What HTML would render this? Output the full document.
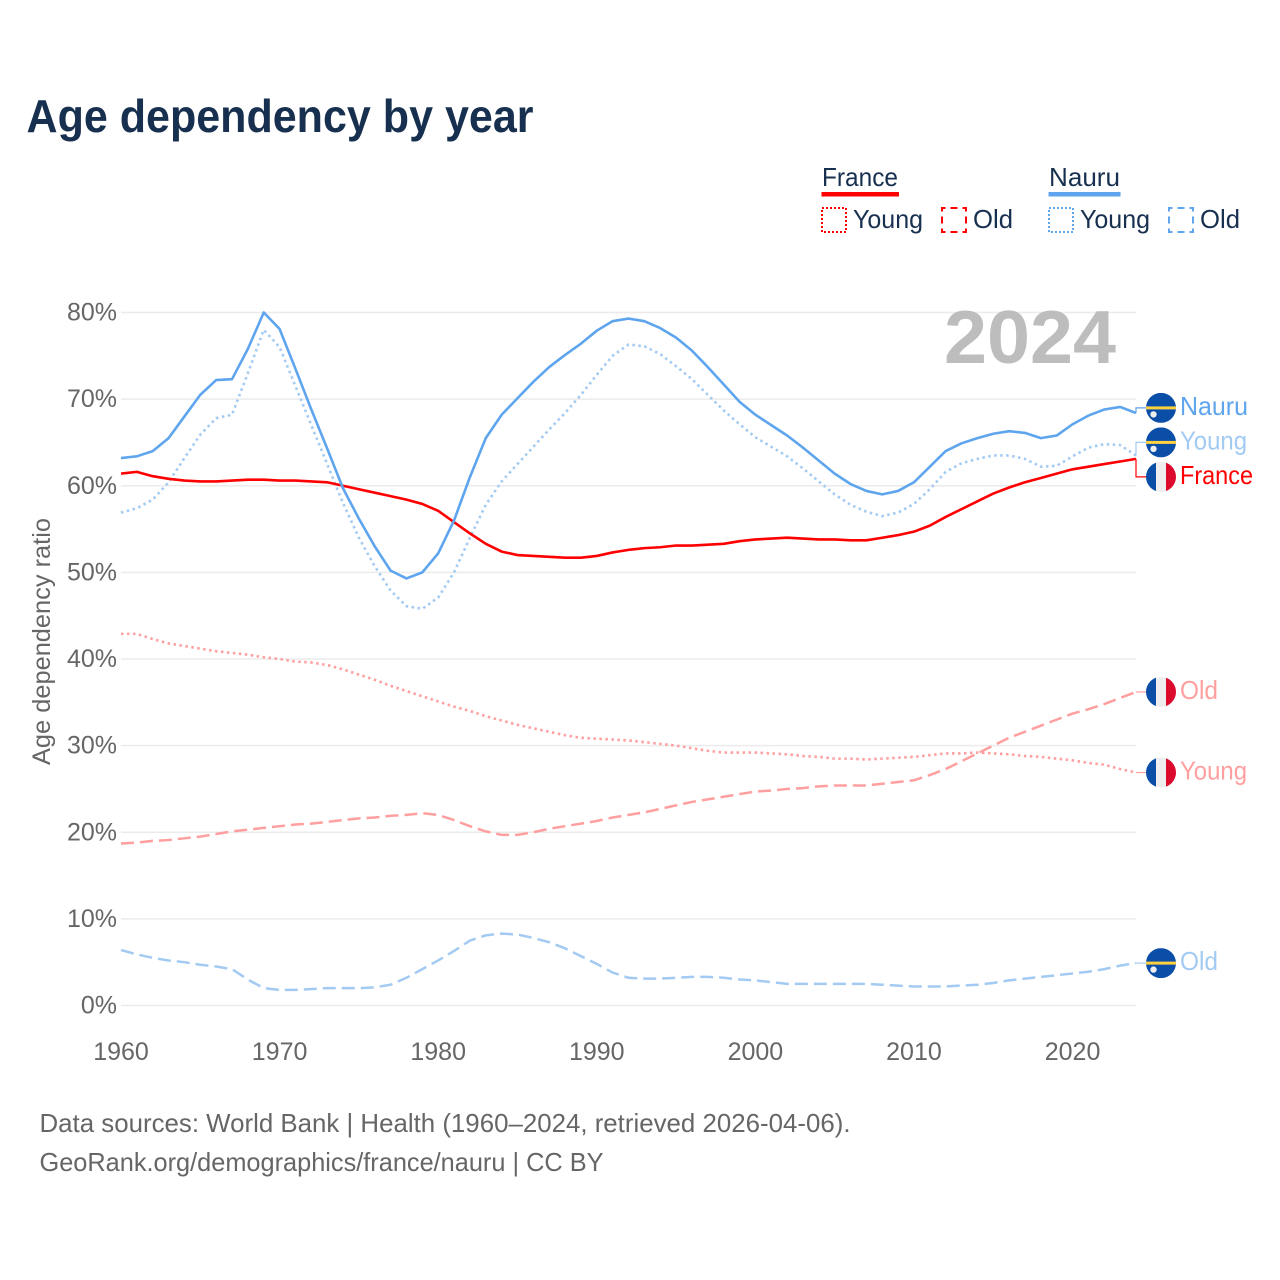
<!DOCTYPE html>
<html lang="en">
<head>
<meta charset="utf-8">
<title>Age dependency by year</title>
<style>
html,body{margin:0;padding:0;background:#fff;}
svg{display:block;font-family:"Liberation Sans",sans-serif;}
</style>
</head>
<body>
<svg id="chart" xmlns="http://www.w3.org/2000/svg" width="1280" height="1280" viewBox="0 0 1280 1280">
  <defs>
    <clipPath id="flag-clip"><circle cx="0" cy="0" r="15"></circle></clipPath>
  </defs>
  <rect width="1280" height="1280" fill="#fff"></rect>
  <text x="26.5" y="132" font-size="46" font-weight="700" fill="#18304f" textLength="507" lengthAdjust="spacingAndGlyphs">Age dependency by year</text>

  <g font-size="26" fill="#18304f">
    <text x="822" y="186" textLength="76" lengthAdjust="spacingAndGlyphs">France</text>
    <rect x="821.5" y="192" width="77.5" height="4.5" fill="#ff0000"></rect>
    <rect x="822" y="208" width="24" height="24" fill="none" stroke="#ff0000" stroke-width="2" stroke-dasharray="2 2"></rect>
    <text x="853" y="228" textLength="70" lengthAdjust="spacingAndGlyphs">Young</text>
    <rect x="942" y="208" width="24" height="24" fill="none" stroke="#ff0000" stroke-width="2" stroke-dasharray="7 5" stroke-dashoffset="3.5"></rect>
    <text x="973" y="228" textLength="40" lengthAdjust="spacingAndGlyphs">Old</text>
    <text x="1049" y="186" textLength="71" lengthAdjust="spacingAndGlyphs">Nauru</text>
    <rect x="1048.5" y="192" width="72" height="4.5" fill="#5ea5ee"></rect>
    <rect x="1049" y="208" width="24" height="24" fill="none" stroke="#5ea5ee" stroke-width="2" stroke-dasharray="2 2"></rect>
    <text x="1080" y="228" textLength="70" lengthAdjust="spacingAndGlyphs">Young</text>
    <rect x="1169" y="208" width="24" height="24" fill="none" stroke="#5ea5ee" stroke-width="2" stroke-dasharray="7 5" stroke-dashoffset="3.5"></rect>
    <text x="1200" y="228" textLength="40" lengthAdjust="spacingAndGlyphs">Old</text>
  </g>

  <g id="grid"></g>
  <text x="1116" y="363" font-size="75" font-weight="700" fill="#bdbdbd" text-anchor="end" textLength="172" lengthAdjust="spacingAndGlyphs">2024</text>
  <g id="y-ticks" font-size="25" fill="#666"></g>
  <g id="x-ticks" font-size="25" fill="#666"></g>
  <text transform="translate(50,641.5) rotate(-90)" font-size="25" fill="#666" text-anchor="middle" textLength="247" lengthAdjust="spacingAndGlyphs">Age dependency ratio</text>
  <g id="series" fill="none" stroke-linejoin="round"></g>
  <g id="end-labels"></g>

  <g font-size="26" fill="#666">
    <text x="39.5" y="1132" textLength="811" lengthAdjust="spacingAndGlyphs">Data sources: World Bank | Health (1960–2024, retrieved 2026-04-06).</text>
    <text x="39.5" y="1171" textLength="564" lengthAdjust="spacingAndGlyphs">GeoRank.org/demographics/france/nauru | CC BY</text>
  </g>
</svg>
<script>
const startYear = 1960;
const yTickValues = [0, 10, 20, 30, 40, 50, 60, 70, 80];
const xTickYears = [1960, 1970, 1980, 1990, 2000, 2010, 2020];

const nauruTotal = [63.2,63.4,64.0,65.5,68.0,70.5,72.2,72.3,75.8,80.0,78.1,73.5,68.8,64.3,59.7,56.2,53.0,50.2,49.3,50.0,52.2,56.0,61.0,65.5,68.2,70.1,72.0,73.7,75.1,76.4,77.9,79.0,79.3,79.0,78.2,77.1,75.6,73.7,71.7,69.7,68.2,67.0,65.8,64.4,62.9,61.4,60.2,59.4,59.0,59.4,60.4,62.2,64.0,64.9,65.5,66.0,66.3,66.1,65.5,65.8,67.1,68.1,68.8,69.1,68.4];
const nauruYoung = [56.9,57.4,58.4,60.4,63.2,65.9,67.8,68.2,73.0,78.0,76.0,71.5,67.0,62.5,58.0,54.0,50.7,47.9,46.1,45.8,47.1,50.0,54.0,57.8,60.5,62.5,64.5,66.5,68.4,70.5,72.8,75.0,76.3,76.1,75.2,73.8,72.3,70.5,68.7,67.1,65.6,64.5,63.4,62.0,60.5,59.0,57.8,57.0,56.5,56.9,57.9,59.6,61.6,62.6,63.1,63.5,63.5,63.1,62.2,62.3,63.4,64.4,64.8,64.7,63.5];
const nauruOld = [6.4,5.9,5.5,5.2,5.0,4.7,4.5,4.2,3.0,2.0,1.8,1.8,1.9,2.0,2.0,2.0,2.1,2.4,3.2,4.2,5.2,6.3,7.5,8.1,8.3,8.2,7.8,7.3,6.6,5.7,4.8,3.8,3.2,3.1,3.1,3.2,3.3,3.3,3.2,3.0,2.9,2.7,2.5,2.5,2.5,2.5,2.5,2.5,2.4,2.3,2.2,2.2,2.2,2.3,2.4,2.6,2.9,3.1,3.3,3.5,3.7,3.9,4.2,4.6,4.9];
const franceTotal = [61.4,61.6,61.1,60.8,60.6,60.5,60.5,60.6,60.7,60.7,60.6,60.6,60.5,60.4,60.0,59.6,59.2,58.8,58.4,57.9,57.1,55.8,54.5,53.3,52.4,52.0,51.9,51.8,51.7,51.7,51.9,52.3,52.6,52.8,52.9,53.1,53.1,53.2,53.3,53.6,53.8,53.9,54.0,53.9,53.8,53.8,53.7,53.7,54.0,54.3,54.7,55.4,56.4,57.3,58.2,59.1,59.8,60.4,60.9,61.4,61.9,62.2,62.5,62.8,63.1];
const franceYoung = [42.9,42.9,42.3,41.8,41.5,41.2,40.9,40.7,40.5,40.2,40.0,39.7,39.6,39.3,38.8,38.2,37.6,36.9,36.3,35.7,35.1,34.5,34.0,33.4,32.9,32.4,32.0,31.6,31.2,30.9,30.8,30.7,30.6,30.4,30.2,30.0,29.7,29.4,29.2,29.2,29.2,29.1,29.0,28.8,28.7,28.5,28.5,28.4,28.5,28.6,28.7,28.9,29.1,29.1,29.2,29.1,29.0,28.8,28.7,28.5,28.3,28.0,27.8,27.3,26.9];
const franceOld = [18.7,18.8,19.0,19.1,19.3,19.5,19.8,20.1,20.3,20.5,20.7,20.9,21.0,21.2,21.4,21.6,21.7,21.9,22.0,22.2,22.0,21.4,20.7,20.1,19.7,19.7,20.0,20.4,20.7,21.0,21.3,21.7,22.0,22.3,22.7,23.1,23.5,23.8,24.1,24.4,24.7,24.8,25.0,25.1,25.3,25.4,25.4,25.4,25.6,25.8,26.0,26.6,27.3,28.2,29.1,30.0,30.9,31.6,32.3,33.0,33.7,34.2,34.8,35.5,36.2];

const SVG_NS = 'http://www.w3.org/2000/svg';
const xOf = function (year) { return 121 + (year - startYear) * (1015 / 64); };
const yOf = function (pct) { return 1005.5 - pct * 8.6625; };

function make(tag, attrs, parent) {
  const el = document.createElementNS(SVG_NS, tag);
  Object.keys(attrs).forEach(function (k) { el.setAttribute(k, attrs[k]); });
  parent.appendChild(el);
  return el;
}

const gridGroup = document.getElementById('grid');
const yTickGroup = document.getElementById('y-ticks');
yTickValues.forEach(function (v) {
  const line = make('line', { x1: 121, x2: 1136, y1: yOf(v), y2: yOf(v), stroke: '#ebebeb', 'stroke-width': 1.5 }, gridGroup);
  
  
  const label = make('text', { x: 117, y: yOf(v) + 8, 'text-anchor': 'end' }, yTickGroup);
  
  
  label.textContent = v + '%';
});

const xTickGroup = document.getElementById('x-ticks');
xTickYears.forEach(function (year) {
  const label = make('text', { x: xOf(year), y: 1060, 'text-anchor': 'middle' }, xTickGroup);
  
  
  label.textContent = String(year);
});

const seriesList = [
  { key: 'france-young', values: franceYoung, color: '#ff9f9f', dash: '2.5 3.5', width: 2.6, label: 'Young', flag: 'france', tw: 67 },
  { key: 'france-old', values: franceOld, color: '#ff9f9f', dash: '13 6', width: 2.5, label: 'Old', flag: 'france', tw: 38 },
  { key: 'nauru-young', values: nauruYoung, color: '#a3caf2', dash: '2.5 3.5', width: 2.6, label: 'Young', flag: 'nauru', tw: 67 },
  { key: 'nauru-old', values: nauruOld, color: '#a3caf2', dash: '13 6', width: 2.5, label: 'Old', flag: 'nauru', tw: 38 },
  { key: 'france-total', values: franceTotal, color: '#ff0000', dash: '', width: 2.6, label: 'France', flag: 'france', tw: 73 },
  { key: 'nauru-total', values: nauruTotal, color: '#5ea5ee', dash: '', width: 2.6, label: 'Nauru', flag: 'nauru', tw: 68 }
];

const seriesGroup = document.getElementById('series');
seriesList.forEach(function (s) {
  const d = s.values.map(function (v, i) {
    return (i ? 'L' : 'M') + xOf(startYear + i).toFixed(2) + ',' + yOf(v).toFixed(2);
  }).join(' ');
  const path = make('path', { d: d, stroke: s.color, 'stroke-width': s.width }, seriesGroup);
  if (s.dash) path.setAttribute('stroke-dasharray', s.dash);
  
  
});

/* dodge end labels so they keep a minimum vertical gap */
const minGap = 34.5;
const slots = seriesList.map(function (s) {
  const endY = yOf(s.values[s.values.length - 1]);
  return { s: s, endY: endY, y: endY };
}).sort(function (a, b) { return a.endY - b.endY; });
for (let pass = 0; pass < 40; pass++) {
  for (let i = 1; i < slots.length; i++) {
    const overlap = minGap - (slots[i].y - slots[i - 1].y);
    if (overlap > 0) {
      slots[i - 1].y -= overlap / 2;
      slots[i].y += overlap / 2;
    }
  }
}

function drawFlag(kind, cy, parent) {
  const g = make('g', { transform: 'translate(1161,' + cy.toFixed(1) + ')', 'clip-path': 'url(#flag-clip)' }, parent);
  
  
  if (kind === 'france') {
    make('rect', { x: -15, y: -15, width: 10, height: 30, fill: '#0a4ea8' }, g);
    make('rect', { x: -5, y: -15, width: 10, height: 30, fill: '#eeeeee' }, g);
    make('rect', { x: 5, y: -15, width: 10, height: 30, fill: '#dc0a2d' }, g);
  } else {
    make('rect', { x: -15, y: -15, width: 30, height: 30, fill: '#0a4ea8' }, g);
    make('rect', { x: -15, y: -1.5, width: 30, height: 3, fill: '#ffd13f' }, g);
    make('circle', { cx: -7.5, cy: 6.5, r: 3.2, fill: '#eeeeee' }, g);
  }
}

const labelGroup = document.getElementById('end-labels');
slots.forEach(function (slot) {
  const s = slot.s;
  const conn = make('path', {
    d: 'M1136,' + slot.endY.toFixed(1) + ' V' + slot.y.toFixed(1) + ' H1147',
    fill: 'none', stroke: s.color, 'stroke-width': 1.2
  }, labelGroup);
  
  
  drawFlag(s.flag, slot.y, labelGroup);
  const t = make('text', {
    x: 1180, y: slot.y + 7, 'font-size': 26, fill: s.color,
    textLength: s.tw, lengthAdjust: 'spacingAndGlyphs'
  }, labelGroup);
  
  
  t.textContent = s.label;
});
</script>
</body>
</html>
